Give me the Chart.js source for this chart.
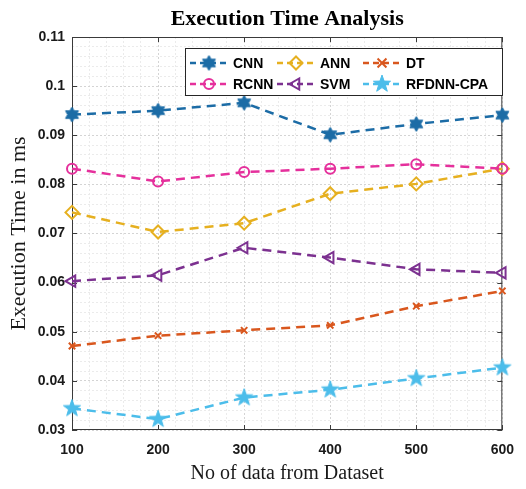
<!DOCTYPE html>
<html>
<head>
<meta charset="utf-8">
<script src="https://cdn.jsdelivr.net/npm/chart.js@4/dist/chart.umd.min.js"></script>
<style>
    html, body { margin: 0; padding: 0; background: #fff; }
</style>
</head>
<body>
<canvas id="myChart" width="526" height="489"></canvas>
<script>
// data
const samples = [100, 200, 300, 400, 500, 600];
const cnn   = [0.0942, 0.0950, 0.0966, 0.0901, 0.0923, 0.0941];
const rcnn  = [0.0832, 0.0806, 0.0825, 0.0832, 0.0841, 0.0832];
const ann   = [0.0743, 0.0703, 0.0721, 0.0781, 0.0801, 0.0832];
const svm   = [0.0603, 0.0615, 0.0671, 0.0651, 0.0627, 0.0620];
const dt    = [0.0471, 0.0492, 0.0503, 0.0513, 0.0552, 0.0583];
const rfdnn = [0.0344, 0.0322, 0.0366, 0.0382, 0.0405, 0.0427];
const seriesNames = ['CNN', 'RCNN', 'ANN', 'SVM', 'DT', 'RFDNN-CPA'];
const xTicks = [100, 200, 300, 400, 500, 600];
const yTicks = [0.03, 0.04, 0.05, 0.06, 0.07, 0.08, 0.09, 0.1, 0.11];

const tickFont = 'Liberation Sans, Arial, sans-serif';
const serifFont = 'Liberation Serif, Times New Roman, serif';

// minor grid: 5 steps between each major tick
function withMinor(majors) {
    const out = [];
    for (let i = 0; i < majors.length - 1; i++) {
        const step = (majors[i + 1] - majors[i]) / 5;
        for (let k = 0; k < 5; k++) out.push(majors[i] + k * step);
    }
    out.push(majors[majors.length - 1]);
    return out;
}
const isMajor = (list, v) => list.some(t => Math.abs(t - v) < 1e-7);

function starImage(n, outer, inner, color) {
    const size = Math.ceil(outer * 2) + 2;
    const c = document.createElement('canvas');
    c.width = size; c.height = size;
    const g = c.getContext('2d');
    g.translate(size / 2, size / 2);
    g.beginPath();
    for (let k = 0; k < n * 2; k++) {
        const r = k % 2 === 0 ? outer : inner;
        const a = -Math.PI / 2 + k * Math.PI / n;
        g.lineTo(r * Math.cos(a), r * Math.sin(a));
    }
    g.closePath();
    g.fillStyle = color;
    g.fill();
    g.strokeStyle = color;
    g.lineWidth = 1;
    g.stroke();
    return c;
}

const colors = ['#1c6ca6', '#e5309c', '#e6b020', '#7c3190', '#d9571e', '#4cbdea'];
const values = [cnn, rcnn, ann, svm, dt, rfdnn];
const markers = [
    { pointStyle: starImage(6, 7.5, 4.3, colors[0]), pointRadius: 7 },
    { pointStyle: 'circle', pointRadius: 5 },
    { pointStyle: 'rectRot', pointRadius: 6.5 },
    { pointStyle: 'triangle', pointRotation: -90, pointRadius: 6.5 },
    { pointStyle: 'crossRot', pointRadius: 4.5 },
    { pointStyle: starImage(5, 9, 3.6, colors[5]), pointRadius: 9 }
];

const datasets = seriesNames.map((name, i) => ({
    label: name,
    data: samples.map((s, j) => ({ x: s, y: values[i][j] })),
    borderColor: colors[i],
    borderWidth: 2.5,
    borderDash: [9, 6],
    pointBorderColor: colors[i],
    pointBackgroundColor: 'rgba(0,0,0,0)',
    pointBorderWidth: 2,
    pointRotation: 0,
    tension: 0,
    clip: false,
    ...markers[i]
}));

function drawMarker(g, ds, x, y) {
    const st = ds.pointStyle;
    const r = ds.pointRadius;
    g.save();
    g.translate(x, y);
    if (typeof st !== 'string') {
        g.drawImage(st, -st.width / 2, -st.height / 2);
        g.restore();
        return;
    }
    g.strokeStyle = ds.pointBorderColor;
    g.lineWidth = ds.pointBorderWidth;
    g.setLineDash([]);
    g.beginPath();
    if (st === 'circle') {
        g.arc(0, 0, r, 0, Math.PI * 2);
    } else if (st === 'rectRot') {
        g.moveTo(0, -r); g.lineTo(r, 0); g.lineTo(0, r); g.lineTo(-r, 0); g.closePath();
    } else if (st === 'triangle') {
        g.rotate((ds.pointRotation || 0) * Math.PI / 180);
        for (let k = 0; k < 3; k++) {
            const a = -Math.PI / 2 + k * 2 * Math.PI / 3;
            g.lineTo(r * Math.cos(a), r * Math.sin(a));
        }
        g.closePath();
    } else if (st === 'crossRot') {
        const d = r * Math.SQRT1_2 * 1.4;
        g.moveTo(-d, -d); g.lineTo(d, d);
        g.moveTo(d, -d); g.lineTo(-d, d);
    }
    g.stroke();
    g.restore();
}

// axes box with inward ticks, like the original figure
const boxPlugin = {
    id: 'box',
    beforeDatasetsDraw(chart) {
        const { ctx, chartArea: a, scales } = chart;
        ctx.save();
        ctx.strokeStyle = '#3a3a3a';
        ctx.lineWidth = 1;
        ctx.strokeRect(a.left + 0.5, a.top + 0.5, a.right - a.left - 1, a.bottom - a.top - 1);
        ctx.beginPath();
        xTicks.forEach(t => {
            const px = Math.round(scales.x.getPixelForValue(t)) + 0.5;
            ctx.moveTo(px, a.bottom); ctx.lineTo(px, a.bottom - 5);
            ctx.moveTo(px, a.top); ctx.lineTo(px, a.top + 5);
        });
        yTicks.forEach(t => {
            const py = Math.round(scales.y.getPixelForValue(t)) + 0.5;
            ctx.moveTo(a.left, py); ctx.lineTo(a.left + 5, py);
            ctx.moveTo(a.right, py); ctx.lineTo(a.right - 5, py);
        });
        ctx.stroke();
        ctx.restore();
    }
};

// legend box: 3 columns, 2 rows
const legendPlugin = {
    id: 'boxLegend',
    afterDraw(chart) {
        const { ctx } = chart;
        const colX = [190, 277, 363];
        const rowY = [63, 84];
        ctx.save();
        ctx.fillStyle = '#fff';
        ctx.fillRect(185, 48, 317, 47);
        ctx.strokeStyle = '#262626';
        ctx.lineWidth = 1;
        ctx.strokeRect(185.5, 48.5, 317, 47);
        chart.data.datasets.forEach((ds, i) => {
            const x0 = colX[Math.floor(i / 2)];
            const y = rowY[i % 2];
            ctx.strokeStyle = ds.borderColor;
            ctx.lineWidth = 2.5;
            ctx.setLineDash([6, 4]);
            ctx.beginPath();
            ctx.moveTo(x0, y); ctx.lineTo(x0 + 38, y);
            ctx.stroke();
            ctx.setLineDash([]);
            drawMarker(ctx, ds, x0 + 19, y);
            ctx.fillStyle = '#000';
            ctx.font = 'bold 14px ' + tickFont;
            ctx.textBaseline = 'middle';
            ctx.textAlign = 'left';
            ctx.fillText(ds.label, x0 + 43, y + 1);
        });
        ctx.restore();
    }
};

const gridColor = list => c => (c.tick && isMajor(list, c.tick.value)) ? '#d4d4d4' : '#ebebeb';

new Chart(document.getElementById('myChart'), {
    type: 'line',
    data: { datasets: datasets },
    options: {
        responsive: false,
        animation: false,
        layout: { padding: { left: 0, right: 14, top: 0, bottom: 0 } },
        scales: {
            x: {
                type: 'linear',
                min: 100,
                max: 600,
                afterBuildTicks: s => { s.ticks = withMinor(xTicks).map(v => ({ value: v })); },
                afterFit: s => { s.height = 59; },
                ticks: {
                    autoSkip: false,
                    maxRotation: 0,
                    padding: 12,
                    color: '#1a1a1a',
                    font: { family: tickFont, size: 14, weight: 'bold' },
                    callback: v => isMajor(xTicks, v) ? String(Math.round(v)) : ''
                },
                grid: { drawTicks: false, lineWidth: 1, color: gridColor(xTicks) },
                border: { display: false, dash: [2, 2] },
                title: {
                    display: true,
                    text: 'No of data from Dataset',
                    color: '#1a1a1a',
                    font: { family: serifFont, size: 20 },
                    padding: { top: 0, bottom: 3 }
                }
            },
            y: {
                min: 0.03,
                max: 0.11,
                afterBuildTicks: s => { s.ticks = withMinor(yTicks).map(v => ({ value: v })); },
                afterFit: s => { s.width = 72; },
                ticks: {
                    autoSkip: false,
                    padding: 7,
                    color: '#1a1a1a',
                    font: { family: tickFont, size: 14, weight: 'bold' },
                    callback: v => {
                        const t = yTicks.find(m => Math.abs(m - v) < 1e-7);
                        return t === undefined ? '' : String(t);
                    }
                },
                grid: { drawTicks: false, lineWidth: 1, color: gridColor(yTicks) },
                border: { display: false, dash: [2, 2] },
                title: {
                    display: true,
                    text: 'Execution Time in ms',
                    color: '#1a1a1a',
                    font: { family: serifFont, size: 22 },
                    padding: { top: 6, bottom: 0 }
                }
            }
        },
        plugins: {
            legend: { display: false },
            tooltip: { enabled: false },
            title: {
                display: true,
                fullSize: false,
                text: 'Execution Time Analysis',
                color: '#000',
                font: { family: serifFont, size: 22, weight: 'bold' },
                padding: { top: 6, bottom: 4.6 }
            }
        }
    },
    plugins: [boxPlugin, legendPlugin]
});
</script>
</body>
</html>
